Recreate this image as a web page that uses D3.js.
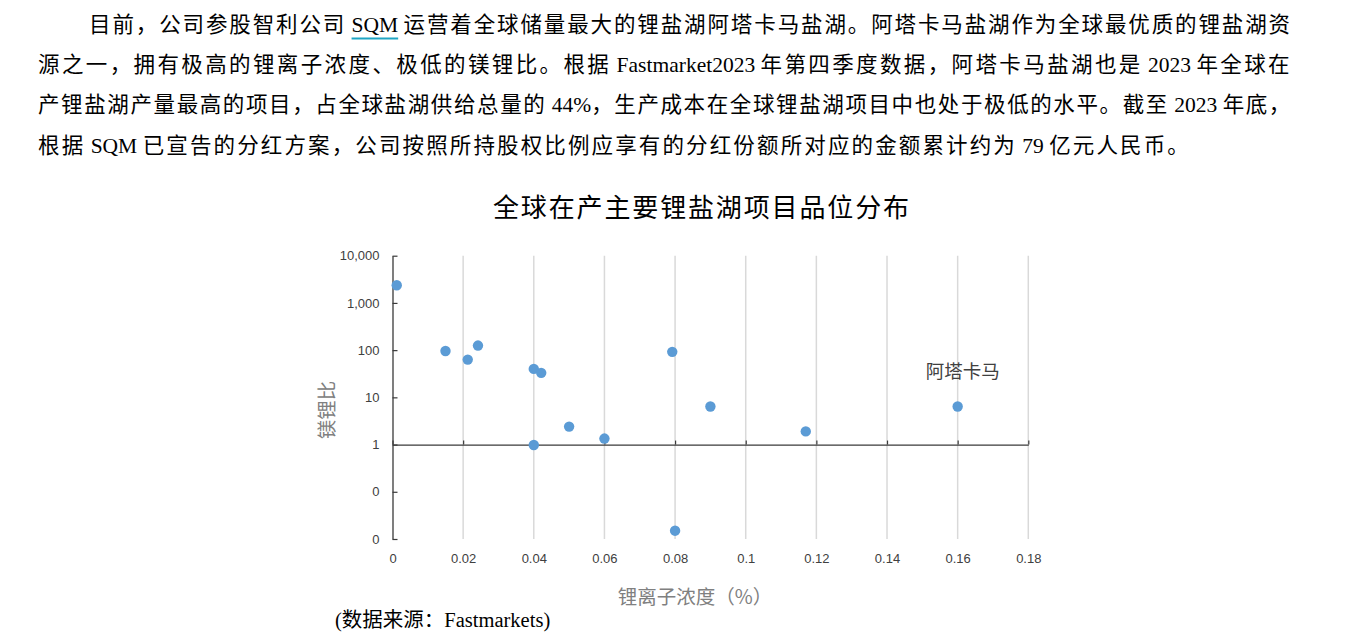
<!DOCTYPE html>
<html>
<head>
<meta charset="utf-8">
<script src="https://cdn.jsdelivr.net/npm/d3@7/dist/d3.min.js"></script>
<style>
  html, body { margin: 0; padding: 0; background: #ffffff; }
  svg { display: block; }
</style>
</head>
<body>
<svg id="chart" width="1371" height="638"></svg>
<script>
// ---------------- data ----------------
const paragraphLines = [
  "目前，公司参股智利公司 SQM 运营着全球储量最大的锂盐湖阿塔卡马盐湖。阿塔卡马盐湖作为全球最优质的锂盐湖资",
  "源之一，拥有极高的锂离子浓度、极低的镁锂比。根据 Fastmarket2023 年第四季度数据，阿塔卡马盐湖也是 2023 年全球在",
  "产锂盐湖产量最高的项目，占全球盐湖供给总量的 44%，生产成本在全球锂盐湖项目中也处于极低的水平。截至 2023 年底，",
  "根据 SQM 已宣告的分红方案，公司按照所持股权比例应享有的分红份额所对应的金额累计约为 79 亿元人民币。"
];
const chartTitle = "全球在产主要锂盐湖项目品位分布";
const xAxisTitle = "锂离子浓度（%）";
const yAxisTitle = "镁锂比";
const sourceNote = "(数据来源：Fastmarkets)";
const pointLabel = "阿塔卡马";

// lithium ion concentration (%)
const lithiumConc = [0.0012, 0.015, 0.0213, 0.0242, 0.040, 0.0421, 0.050, 0.040, 0.060, 0.0792, 0.080, 0.090, 0.117, 0.160];
// Mg/Li ratio
const mgLiRatio   = [2370,   96,    63,     125,    40,    33,     2.4,   0.98,  1.34,  92,     0.015, 6.4,   1.9,   6.4];
const labelIndex = 13;

const xTicks = [0, 0.02, 0.04, 0.06, 0.08, 0.1, 0.12, 0.14, 0.16, 0.18];
const xTickLabels = ["0", "0.02", "0.04", "0.06", "0.08", "0.1", "0.12", "0.14", "0.16", "0.18"];
const yTicks = [10000, 1000, 100, 10, 1, 0.1, 0.01];
const yTickLabels = ["10,000", "1,000", "100", "10", "1", "0", "0"];

// ---------------- drawing ----------------
const svg = d3.select("#chart");
const serif = "'Liberation Serif', 'Times New Roman', 'Noto Sans CJK SC', serif";
const sans = "'Liberation Sans', Arial, 'Noto Sans CJK SC', sans-serif";
const cjkRe = /([\u3000-\u9fff\uff00-\uffef]+)/;

// paragraph: justify by spacing CJK characters only
const lineStarts = [89, 38, 38, 38];
const lineEnds = [1292, 1292, 1292, 1191];
const lineCenters = [25, 65, 105, 146];
const pGroup = svg.append("g");
const pNodes = [];
paragraphLines.forEach((line, i) => {
  const t = pGroup.append("text")
    .attr("x", lineStarts[i])
    .attr("y", lineCenters[i])
    .attr("dominant-baseline", "central")
    .attr("font-family", serif)
    .attr("font-size", 21.5)
    .attr("fill", "#000");
  const parts = line.split(cjkRe).filter(s => s.length);
  let nCjk = 0;
  parts.forEach(p => {
    const isCjk = cjkRe.test(p) && p.replace(cjkRe, "") === "";
    const ts = t.append("tspan").text(p).classed("cjk", isCjk);
    if (isCjk) nCjk += p.length;
  });
  const w = t.node().getComputedTextLength();
  const target = lineEnds[i] - lineStarts[i];
  const ls = (target - w) / Math.max(1, nCjk);
  t.selectAll("tspan.cjk").style("letter-spacing", ls + "px");
  pNodes.push(t.node());
});

// underline under SQM in first line
(function () {
  const node = pNodes[0];
  const idx = paragraphLines[0].indexOf("SQM");
  try {
    const x0 = node.getStartPositionOfChar(idx).x;
    const x1 = node.getEndPositionOfChar(idx + 2).x;
    svg.append("line")
      .attr("x1", x0).attr("x2", x1)
      .attr("y1", 38.5).attr("y2", 38.5)
      .attr("stroke", "#1fa5c4").attr("stroke-width", 2);
  } catch (e) {}
})();

// title
svg.append("text")
  .attr("x", 701).attr("y", 205)
  .attr("text-anchor", "middle")
  .attr("dominant-baseline", "central")
  .attr("font-family", "'Noto Sans CJK SC', sans-serif")
  .attr("font-weight", 400)
  .attr("font-size", 26)
  .attr("fill", "#000")
  .attr("textLength", 416)
  .attr("lengthAdjust", "spacing")
  .text(chartTitle);

// scales
const x = d3.scaleLinear().domain([0, 0.18]).range([392.5, 1028.3]);
const y = d3.scaleLog().domain([0.01, 10000]).range([539, 255.7]);

// gridlines
svg.append("g").selectAll("line")
  .data(xTicks.filter(v => v > 0))
  .join("line")
  .attr("x1", d => x(d)).attr("x2", d => x(d))
  .attr("y1", y(10000)).attr("y2", y(0.01))
  .attr("stroke", "#d9d9d9").attr("stroke-width", 1.5);

// y axis
const yAxis = svg.append("g")
  .attr("transform", `translate(${x(0)},0)`)
  .call(d3.axisLeft(y).tickValues(yTicks).tickSize(-5).tickSizeOuter(0).tickPadding(13)
    .tickFormat((d, i) => yTickLabels[i]));
yAxis.select(".domain").attr("stroke", "#3a3a3a").attr("stroke-width", 1.3);
yAxis.selectAll(".tick line").attr("stroke", "#3a3a3a").attr("stroke-width", 1.2);
yAxis.selectAll(".tick text")
  .attr("font-family", sans).attr("font-size", 13).attr("fill", "#404040");

// x axis line at y = 1 with inward ticks
const xAxisLine = svg.append("g")
  .attr("transform", `translate(0,${y(1)})`)
  .call(d3.axisBottom(x).tickValues(xTicks).tickSize(-4).tickSizeOuter(0).tickFormat(""));
xAxisLine.select(".domain").attr("stroke", "#3a3a3a").attr("stroke-width", 1.3);
xAxisLine.selectAll(".tick line").attr("stroke", "#3a3a3a").attr("stroke-width", 1.2);

// x labels at bottom
const xLabels = svg.append("g")
  .attr("transform", `translate(0,${y(0.01)})`)
  .call(d3.axisBottom(x).tickValues(xTicks).tickSize(0).tickPadding(14.5)
    .tickFormat((d, i) => xTickLabels[i]));
xLabels.select(".domain").remove();
xLabels.selectAll(".tick text")
  .attr("font-family", sans).attr("font-size", 13).attr("fill", "#404040");

// points
svg.append("g").selectAll("circle")
  .data(lithiumConc.map((v, i) => [v, mgLiRatio[i]]))
  .join("circle")
  .attr("cx", d => x(d[0]))
  .attr("cy", d => y(d[1]))
  .attr("r", 5.2)
  .attr("fill", "#5b9bd5");

// point label
svg.append("text")
  .attr("x", x(lithiumConc[labelIndex]) + 5)
  .attr("y", y(mgLiRatio[labelIndex]) - 37)
  .attr("text-anchor", "middle")
  .attr("dominant-baseline", "central")
  .attr("font-family", "'Noto Sans CJK SC', sans-serif")
  .attr("font-size", 18.5)
  .attr("fill", "#404040")
  .text(pointLabel);

// axis titles
svg.append("text")
  .attr("x", 695).attr("y", 595)
  .attr("text-anchor", "middle")
  .attr("dominant-baseline", "central")
  .attr("font-family", "'Noto Sans CJK SC', sans-serif")
  .attr("font-size", 19.5)
  .attr("fill", "#808080")
  .text(xAxisTitle);

svg.append("text")
  .attr("transform", "translate(325,410) rotate(-90)")
  .attr("text-anchor", "middle")
  .attr("dominant-baseline", "central")
  .attr("font-family", "'Noto Sans CJK SC', sans-serif")
  .attr("font-size", 19.5)
  .attr("fill", "#808080")
  .text(yAxisTitle);

// source note
svg.append("text")
  .attr("x", 335).attr("y", 620)
  .attr("dominant-baseline", "central")
  .attr("font-family", serif)
  .attr("font-size", 20.5)
  .attr("fill", "#000")
  .text(sourceNote);
</script>
</body>
</html>
